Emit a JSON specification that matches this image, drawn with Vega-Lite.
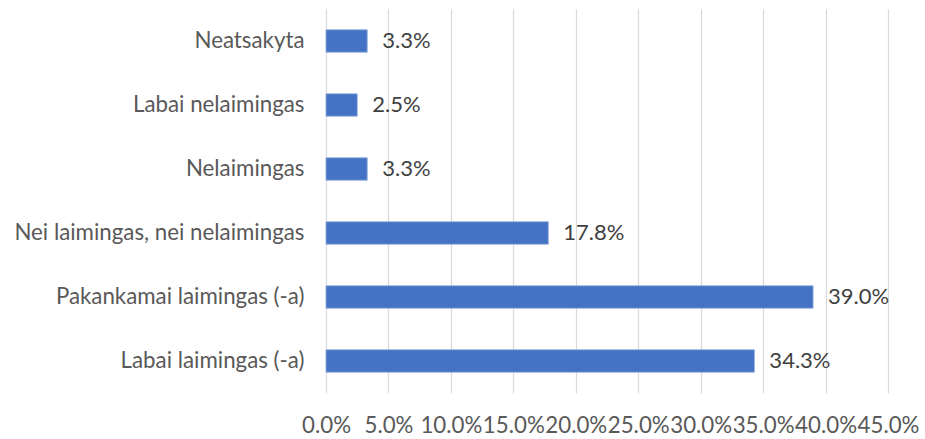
{
  "$schema": "https://vega.github.io/schema/vega-lite/v6.json",
  "width": 562,
  "height": 384,
  "autosize": "none",
  "padding": {"left": 326, "top": 9, "right": 37, "bottom": 46},
  "background": "white",
  "config": {"view": {"stroke": null}, "font": "Lato"},
  "data": {"values": [
    {"cat": "Neatsakyta", "v": 0.033},
    {"cat": "Labai nelaimingas", "v": 0.025},
    {"cat": "Nelaimingas", "v": 0.033},
    {"cat": "Nei laimingas, nei nelaimingas", "v": 0.178},
    {"cat": "Pakankamai laimingas (-a)", "v": 0.390},
    {"cat": "Labai laimingas (-a)", "v": 0.343}
  ]},
  "encoding": {
    "y": {"field": "cat", "type": "nominal", "sort": null,
      "scale": {"paddingInner": 0.65, "paddingOuter": 0.325},
      "axis": {"title": null, "domain": false, "ticks": false, "labelPadding": 22, "labelFontSize": 22.3, "labelColor": "#595959", "labelFont": "Lato", "labelLimit": 400}},
    "x": {"field": "v", "type": "quantitative",
      "scale": {"domain": [0, 0.45], "nice": false},
      "axis": {"title": null, "format": ".1%", "values": [0,0.05,0.1,0.15,0.2,0.25,0.3,0.35,0.4,0.45], "domain": false, "ticks": false, "grid": true, "gridColor": "#d9d9d9", "gridWidth": 1.2, "labelPadding": 21, "labelFontSize": 22.3, "labelColor": "#595959", "labelFont": "Lato", "labelFlush": false}}
  },
  "layer": [
    {"mark": {"type": "bar", "color": "#4472c4", "stroke": "#8faadc", "strokeWidth": 0.8}},
    {"mark": {"type": "text", "align": "left", "baseline": "middle", "dx": 15, "fontSize": 22, "color": "#404040", "font": "Lato"},
     "encoding": {"text": {"field": "v", "type": "quantitative", "format": ".1%"}}}
  ]
}
